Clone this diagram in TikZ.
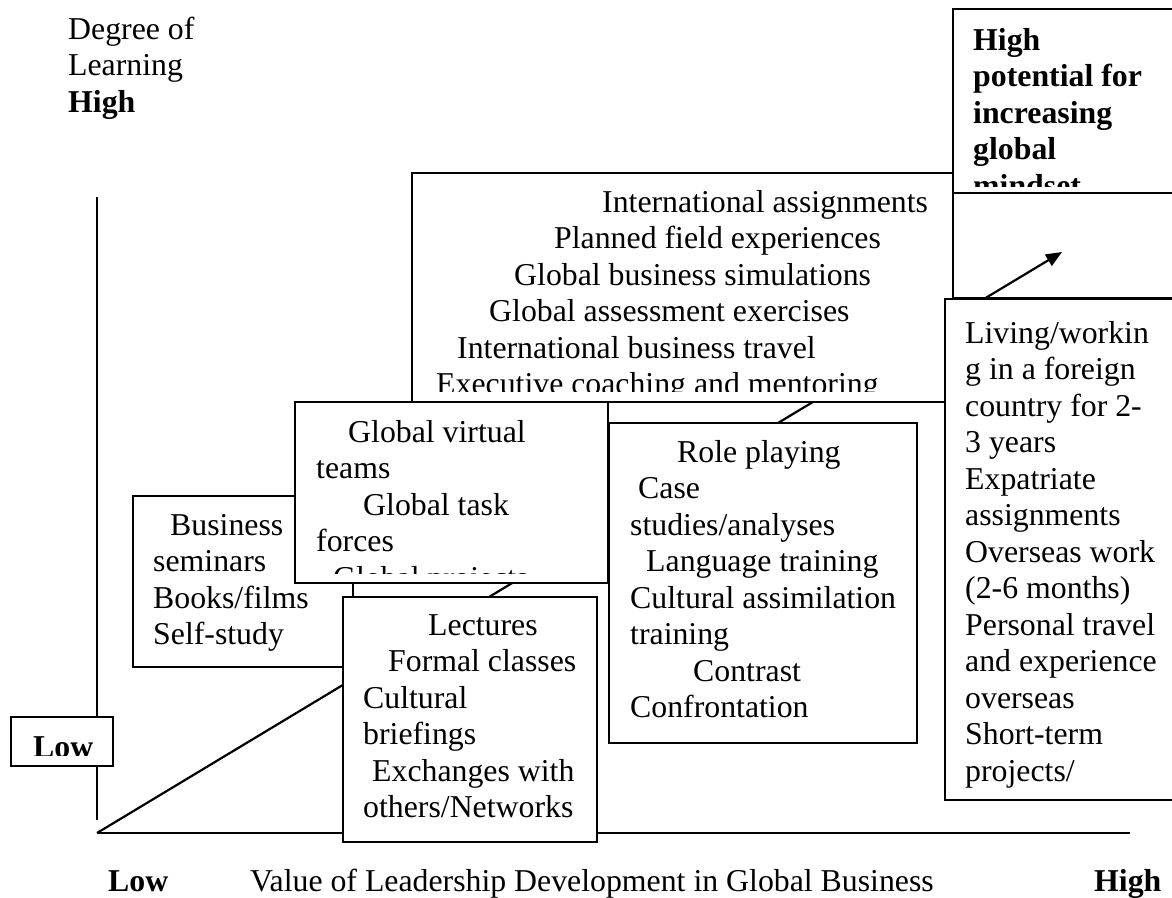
\documentclass[tikz,border=0pt]{standalone}
\usepackage{fontspec}
\setmainfont{Liberation Serif}
\usetikzlibrary{arrows.meta,fit}
\tikzset{
  tb/.style={draw, fill=white, line width=1.8pt, inner sep=0pt},
  tbo/.style={draw, line width=1.8pt, inner sep=0pt},
  txt/.style={anchor=base west, inner sep=0pt},
  axisline/.style={line width=1.8pt},
  growth/.style={line width=2.2pt, -{Triangle[length=16pt,width=13pt]}},
}
\newcommand\ind[1]{\hspace*{#1pt}}
\newcommand\lines[1]{\parbox[t]{700pt}{\raggedright #1}}
\begin{document}
\begin{tikzpicture}[x=1pt,y=-1pt,font=\fontsize{31.8}{36.5}\selectfont]
\useasboundingbox (0,0) rectangle (1172,897);
\clip (0,0) rectangle (1172,897);
% axes and growth arrow
\coordinate (O) at (97,833);
\coordinate (ytop) at (97,197);
\coordinate (ybot) at (97,820);
\coordinate (xend) at (1130,833);
\coordinate (tip) at (1062,252);
\draw[axisline] (ybot) -- (ytop);
\draw[axisline] (O) -- (xend);
\draw[growth] (O) -- (tip);

% axis labels
\node[txt] (ylab) at (68,39) {\lines{Degree of\\Learning\\\textbf{High}}};
\node[txt] (xlow) at (108,891) {\textbf{Low}};
\node[txt] (xlab) at (250,891) {Value of Leadership Development in Global Business};
\node[txt] (xhigh) at (1094,891) {\textbf{High}};

% executive box
\node[tb, fit={(412,173) (953,402)}] (exec) {};
\begin{scope}
\clip (exec.north west) rectangle ([yshift=11pt]exec.south east);
\node[txt] (exect) at (436,212) {\lines{\ind{166}International assignments\\
\ind{118}Planned field experiences\\
\ind{78}Global business simulations\\
\ind{53}Global assessment exercises\\
\ind{21}International business travel\\
Executive coaching and mentoring}};
\end{scope}

% high potential box
\node[tb, fit={(953,9) (1190,193)}] (hp) {};
\begin{scope}
\clip (hp.north west) rectangle ([yshift=7pt]hp.south east);
\node[txt] (hpt) at (973,50) {\lines{\bfseries High\\potential for\\increasing\\global\\mindset}};
\end{scope}
\node[tbo, fit={(953,193) (1190,298)}] (hplow) {};

% business box
\node[tb, fit={(133,496) (353,667)}] (bus) {};
\begin{scope}
\clip (bus.north west) rectangle ([yshift=8pt]bus.south east);
\node[txt] (bust) at (153,535) {\lines{\ind{17}Business\\seminars\\Books/films\\Self-study}};
\end{scope}

% global virtual box
\node[tb, fit={(295,402) (608,583)}] (gv) {};
\begin{scope}
\clip (gv.north west) rectangle ([yshift=10pt]gv.south east);
\node[txt] (gvt) at (316,442) {\lines{\ind{32}Global virtual\\teams\\\ind{47}Global task\\forces\\\ind{17}Global projects}};
\end{scope}

% role playing box
\node[tb, fit={(609,423) (917,743)}] (role) {};
\begin{scope}
\clip (role.north west) rectangle ([yshift=8pt]role.south east);
\node[txt] (rolet) at (630,462) {\lines{\ind{47}Role playing\\\ind{8}Case\\studies/analyses\\\ind{16}Language training\\Cultural assimilation\\training\\\ind{63}Contrast\\Confrontation}};
\end{scope}

% living box
\node[tb, fit={(945,299) (1190,800)}] (liv) {};
\begin{scope}
\clip (liv.north west) rectangle ([yshift=8pt]liv.south east);
\node[txt] (livt) at (965,343) {\lines{Living/workin\\g in a foreign\\country for 2-\\3 years\\Expatriate\\assignments\\Overseas work\\(2-6 months)\\Personal travel\\and experience\\overseas\\Short-term\\projects/}};
\end{scope}

% lectures box
\node[tb, fit={(343,597) (597,842)}] (lec) {};
\begin{scope}
\clip (lec.north west) rectangle ([yshift=8pt]lec.south east);
\node[txt] (lect) at (363,635) {\lines{\ind{65}Lectures\\\ind{25}Formal classes\\Cultural\\briefings\\\ind{9}Exchanges with\\others/Networks}};
\end{scope}

% low box
\node[tb, fit={(11,717) (113,766)}] (lowbox) {};
\begin{scope}
\clip (lowbox.north west) rectangle ([yshift=11pt]lowbox.south east);
\node[txt] (lowt) at (33,757) {\textbf{Low}};
\end{scope}
\end{tikzpicture}
\end{document}
